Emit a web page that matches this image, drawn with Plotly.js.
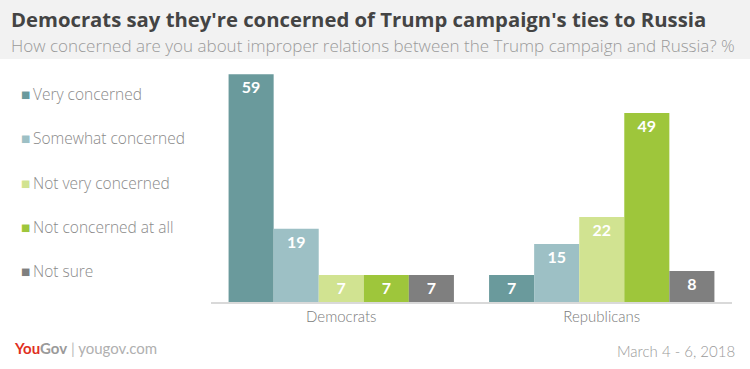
<!DOCTYPE html>
<html>
<head>
<meta charset="utf-8">
<script src="https://cdn.plot.ly/plotly-3.0.1.min.js"></script>
<style>html,body{margin:0;padding:0;background:#fff;}#chart{width:750px;height:369px;}</style>
</head>
<body>
<div id="chart"></div>
<script>
const categories = ["Democrats", "Republicans"];
const seriesNames = ["Very concerned", "Somewhat concerned", "Not very concerned", "Not concerned at all", "Not sure"];
const veryConcerned = [59, 7];
const somewhatConcerned = [19, 15];
const notVeryConcerned = [7, 22];
const notConcernedAtAll = [7, 49];
const notSure = [7, 8];
const seriesValues = [veryConcerned, somewhatConcerned, notVeryConcerned, notConcernedAtAll, notSure];
const colors = ["#6a9a9c", "#9dc0c5", "#d1e391", "#9ec63b", "#7f7f7f"];

const W = 750, H = 369;
const mL = 211, mR = 18, mT = 60, mB = 67;
const plotH = H - mT - mB;
const plotW = W - mL - mR;
const py = p => (H - mB - p) / plotH;   // pixel y -> paper y
const px = p => (p - mL) / plotW;       // pixel x -> paper x
const FONT = "Lato, 'Open Sans', sans-serif";
const WIDE = "'Open Sans', Lato, sans-serif";

const traces = seriesNames.map((name, i) => ({
  type: "bar",
  name: name,
  x: categories,
  y: seriesValues[i],
  marker: {color: colors[i]},
  text: seriesValues[i].map(String),
  textposition: "inside",
  insidetextanchor: "end",
  textangle: 0,
  textfont: {family: FONT, size: 16, color: "#ffffff", weight: "bold"},
  hoverinfo: "none",
  showlegend: false
}));

const annotations = [
  {text: "Democrats say they're concerned of Trump campaign's ties to Russia", xref: "paper", yref: "paper",
   x: px(9), y: py(19), xanchor: "left", yanchor: "middle", showarrow: false,
   font: {family: WIDE, size: 20.3, color: "#444444", weight: "bold"}},
  {text: "How concerned are you about improper relations between the Trump campaign and Russia? %", xref: "paper", yref: "paper",
   x: px(9), y: py(45), xanchor: "left", yanchor: "middle", showarrow: false,
   font: {family: WIDE, size: 17, color: "#9a9a9a", weight: 300}},
  {text: "<span style='color:#e0301e;font-weight:bold'>You</span><span style='color:#9a9a9a;font-weight:bold'>Gov</span><span style='color:#bbbbbb'> | </span><span style='color:#b0b0b0'>yougov.com</span>",
   xref: "paper", yref: "paper", x: px(12), y: py(348), xanchor: "left", yanchor: "middle", showarrow: false,
   font: {family: FONT, size: 15, color: "#aaaaaa"}},
  {text: "March 4 - 6, 2018", xref: "paper", yref: "paper", x: px(737), y: py(351), xanchor: "right", yanchor: "middle",
   showarrow: false, font: {family: FONT, size: 15, color: "#9a9a9a", weight: 300}}
];

const legendY = [94, 138, 183, 227, 271];
seriesNames.forEach((name, i) => {
  annotations.push({
    text: "<span style='color:" + colors[i] + "'>■</span>\u2009" + name,
    xref: "paper", yref: "paper", x: px(19), y: py(legendY[i]), xanchor: "left", yanchor: "middle",
    showarrow: false, font: {family: WIDE, size: 15.5, color: "#8a8a8a", weight: 300}
  });
});

const layout = {
  width: W, height: H,
  margin: {l: mL, r: mR, t: mT, b: mB, pad: 0},
  paper_bgcolor: "#ffffff", plot_bgcolor: "#ffffff",
  barmode: "group", bargap: 0.135, bargroupgap: 0,
  showlegend: false,
  xaxis: {type: "category", showline: true, linecolor: "#d9d9d9", linewidth: 2, ticks: "",
          showgrid: false, zeroline: false, fixedrange: true,
          tickfont: {family: FONT, size: 15, color: "#7a7a7a", weight: 300}},
  yaxis: {range: [0, 62.7], visible: false, showgrid: false, zeroline: false, fixedrange: true},
  shapes: [
    {type: "rect", xref: "paper", yref: "paper", x0: px(0), x1: px(W), y0: py(59), y1: py(0),
     fillcolor: "#f2f2f2", line: {width: 0}, layer: "below"}
  ],
  annotations: annotations,
  uniformtext: {mode: "show", minsize: 16}
};

Plotly.newPlot("chart", traces, layout, {displayModeBar: false, staticPlot: true});
</script>
</body>
</html>
